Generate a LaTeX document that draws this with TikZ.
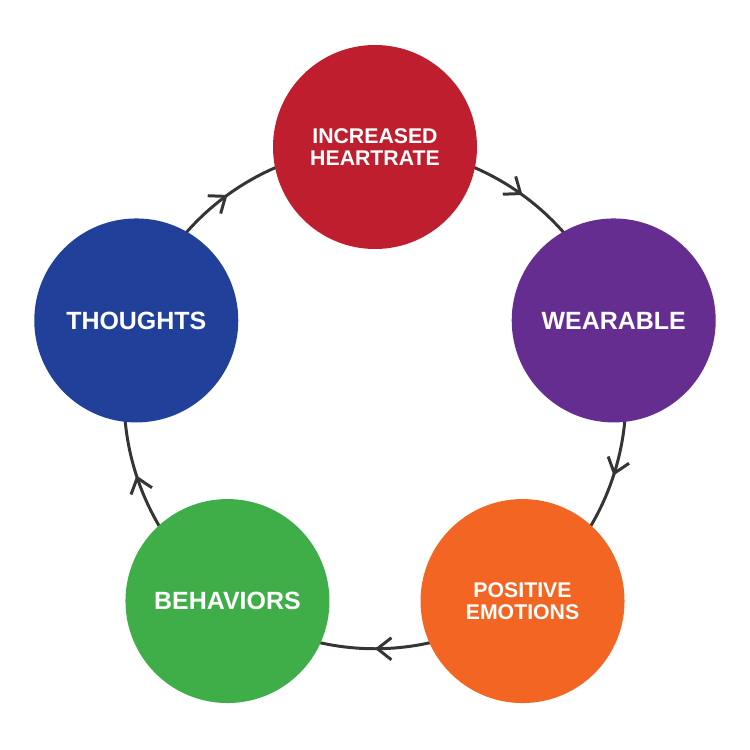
\documentclass[tikz,border=0pt]{standalone}
\usepackage{fontspec}
\setmainfont{Liberation Sans}
\usetikzlibrary{arrows.meta,decorations.markings,backgrounds}
\definecolor{heartred}{HTML}{BE1E2D}
\definecolor{wearpurple}{HTML}{662D91}
\definecolor{emoorange}{HTML}{F26522}
\definecolor{behgreen}{HTML}{3FAE49}
\definecolor{thoublue}{HTML}{21409A}
\definecolor{ringgray}{HTML}{353535}

\begin{document}
\begin{tikzpicture}
  [font=\bfseries\fontsize{14.2}{16}\selectfont,
   every node/.style={circle,minimum size=4.08cm,inner sep=0pt,text=white,align=center},
   twoline/.style={font=\bfseries\fontsize{12.1}{12.3}\selectfont},
   ring/.style={line width=1.7pt,draw=ringgray,bend left=36,looseness=0.94,
     postaction={decorate},
     decoration={markings,mark=at position 0.5 with {\arrow{Straight Barb[length=0.28cm,width=0.44cm]}}}}]
  \useasboundingbox (-7.5,-7.04) rectangle (7.5,7.96);
  \node[fill=heartred,twoline] (heart) at (90:5.02) {INCREASED\\HEARTRATE};
  \node[fill=wearpurple] (wear) at (18:5.02) {WEARABLE};
  \node[fill=emoorange,twoline] (emo) at (-54:5.02) {POSITIVE\\EMOTIONS};
  \node[fill=behgreen] (beh) at (-126:5.02) {BEHAVIORS};
  \node[fill=thoublue] (thou) at (162:5.02) {THOUGHTS};

  \begin{scope}[on background layer]
    \foreach \from/\to in {heart/wear,wear/emo,emo/beh,beh/thou,thou/heart}
      \draw[ring] (\from.center) to (\to.center);
  \end{scope}
\end{tikzpicture}
\end{document}
